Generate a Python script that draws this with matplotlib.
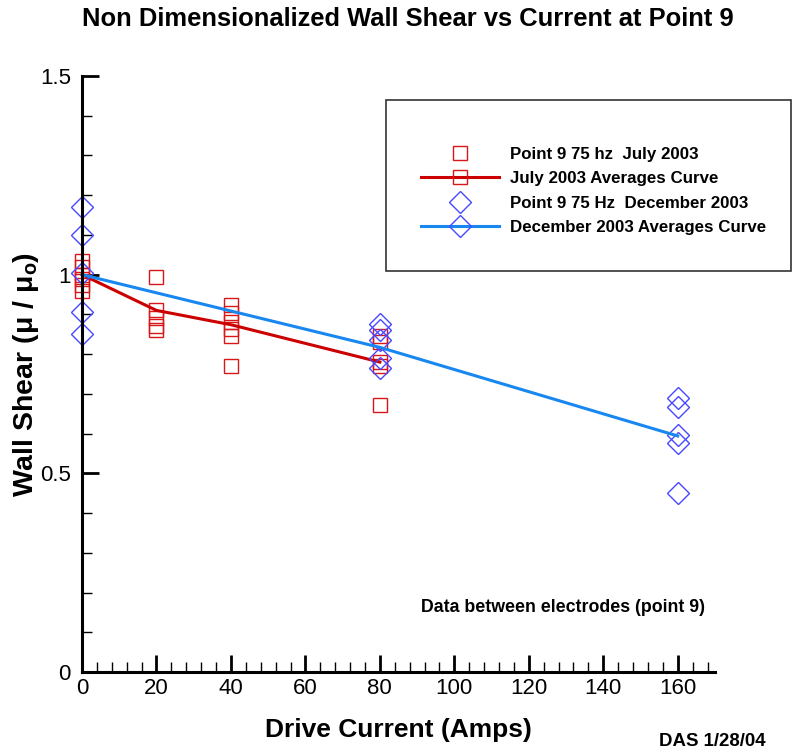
import matplotlib
matplotlib.use("Agg")
import matplotlib.pyplot as plt
from matplotlib.lines import Line2D
from matplotlib.patches import Rectangle
from matplotlib.ticker import MultipleLocator

plt.rcParams['font.family'] = ['Liberation Sans', 'DejaVu Sans']
plt.rcParams['mathtext.default'] = 'regular'

# July 2003 measurements (75 hz, point 9)
july_x = [0, 0, 0, 0, 0, 0,
          20, 20, 20, 20, 20,
          40, 40, 40, 40, 40, 40,
          80, 80, 80, 80, 80]
july_y = [1.035, 1.02, 1.00, 0.99, 0.975, 0.96,
          0.995, 0.912, 0.89, 0.87, 0.86,
          0.924, 0.904, 0.88, 0.862, 0.845, 0.77,
          0.845, 0.83, 0.78, 0.77, 0.672]
july_avg_x = [0, 20, 40, 80]
july_avg_y = [1.0, 0.91, 0.874, 0.78]

# December 2003 measurements (75 Hz, point 9)
dec_x = [0, 0, 0, 0, 0,
         80, 80, 80, 80, 80,
         160, 160, 160, 160, 160]
dec_y = [1.17, 1.10, 1.005, 0.905, 0.85,
         0.875, 0.86, 0.835, 0.79, 0.765,
         0.69, 0.668, 0.597, 0.577, 0.451]
dec_avg_x = [0, 80, 160]
dec_avg_y = [1.0, 0.817, 0.594]

red = '#cc0000'
sq_red = '#d81818'
blue = '#1888f0'
dia_blue = '#4848ff'

fig = plt.figure(figsize=(7.93, 7.5), dpi=100)
ax = fig.add_axes([0.1034, 0.104, 0.7982, 0.7947])

ax.plot(july_x, july_y, 's', ms=10.5, mfc='none', mec=sq_red, mew=1.0, clip_on=False)
ax.plot(july_avg_x, july_avg_y, '-', color=red, lw=2.2, clip_on=False)
ax.plot(dec_x, dec_y, 'D', ms=11, mfc='none', mec=dia_blue, mew=1.0, clip_on=False)
ax.plot(dec_avg_x, dec_avg_y, '-', color=blue, lw=2.2, clip_on=False)

ax.set_xlim(0, 170)
ax.set_ylim(0, 1.5)
ax.xaxis.set_major_locator(MultipleLocator(20))
ax.xaxis.set_minor_locator(MultipleLocator(4))
ax.yaxis.set_major_locator(MultipleLocator(0.5))
ax.yaxis.set_minor_locator(MultipleLocator(0.1))
ax.set_yticks([0, 0.5, 1, 1.5])
ax.set_yticklabels(['0', '0.5', '1', '1.5'])

for s in ['top', 'right']:
    ax.spines[s].set_visible(False)
for s in ['left', 'bottom']:
    ax.spines[s].set_linewidth(2.2)
ax.tick_params(which='major', direction='in', length=12, width=2, labelsize=16)
ax.tick_params(axis='x', which='major', pad=4)
ax.tick_params(axis='y', which='major', pad=8)
ax.tick_params(which='minor', direction='in', length=7, width=1)

ax.set_title('Non Dimensionalized Wall Shear vs Current at Point 9',
             fontsize=18.4, fontweight='bold', pad=36, x=0.515)
ax.set_xlabel('Drive Current (Amps)', fontsize=19, fontweight='bold', labelpad=14)
ax.set_ylabel('Wall Shear (μ / μ$_{o}$)', fontsize=20.5, fontweight='bold', labelpad=-1)

# legend box
fig.patches.append(Rectangle((386 / 793, 1 - 271 / 750), 405 / 793, 171 / 750,
                             transform=fig.transFigure, fill=False,
                             ec='#333333', lw=1.2))
handles = [
    Line2D([], [], ls='none', marker='s', ms=10.5, mfc='none', mec=sq_red, mew=1.0),
    Line2D([], [], color=red, lw=2.2, marker='s', ms=10.5, mfc='none', mec=sq_red, mew=1.0),
    Line2D([], [], ls='none', marker='D', ms=11, mfc='none', mec=dia_blue, mew=1.0),
    Line2D([], [], color=blue, lw=2.2, marker='D', ms=11, mfc='none', mec=dia_blue, mew=1.0),
]
labels = ['Point 9 75 hz  July 2003', 'July 2003 Averages Curve',
          'Point 9 75 Hz  December 2003', 'December 2003 Averages Curve']
fig.legend(handles, labels, loc='upper left', bbox_to_anchor=(421 / 793, 1 - 147 / 750),
           frameon=False, prop={'weight': 'bold', 'size': 12.2},
           handlelength=4.6, handletextpad=0.65, labelspacing=0.55,
           borderpad=0, borderaxespad=0)

fig.text(421 / 793, 1 - 607 / 750, 'Data between electrodes (point 9)',
         fontsize=12.8, fontweight='bold', va='center')
fig.text(659 / 793, 1 - 741 / 750, 'DAS 1/28/04',
         fontsize=13.4, fontweight='bold', va='center')

fig.savefig('out.png', dpi=100)
